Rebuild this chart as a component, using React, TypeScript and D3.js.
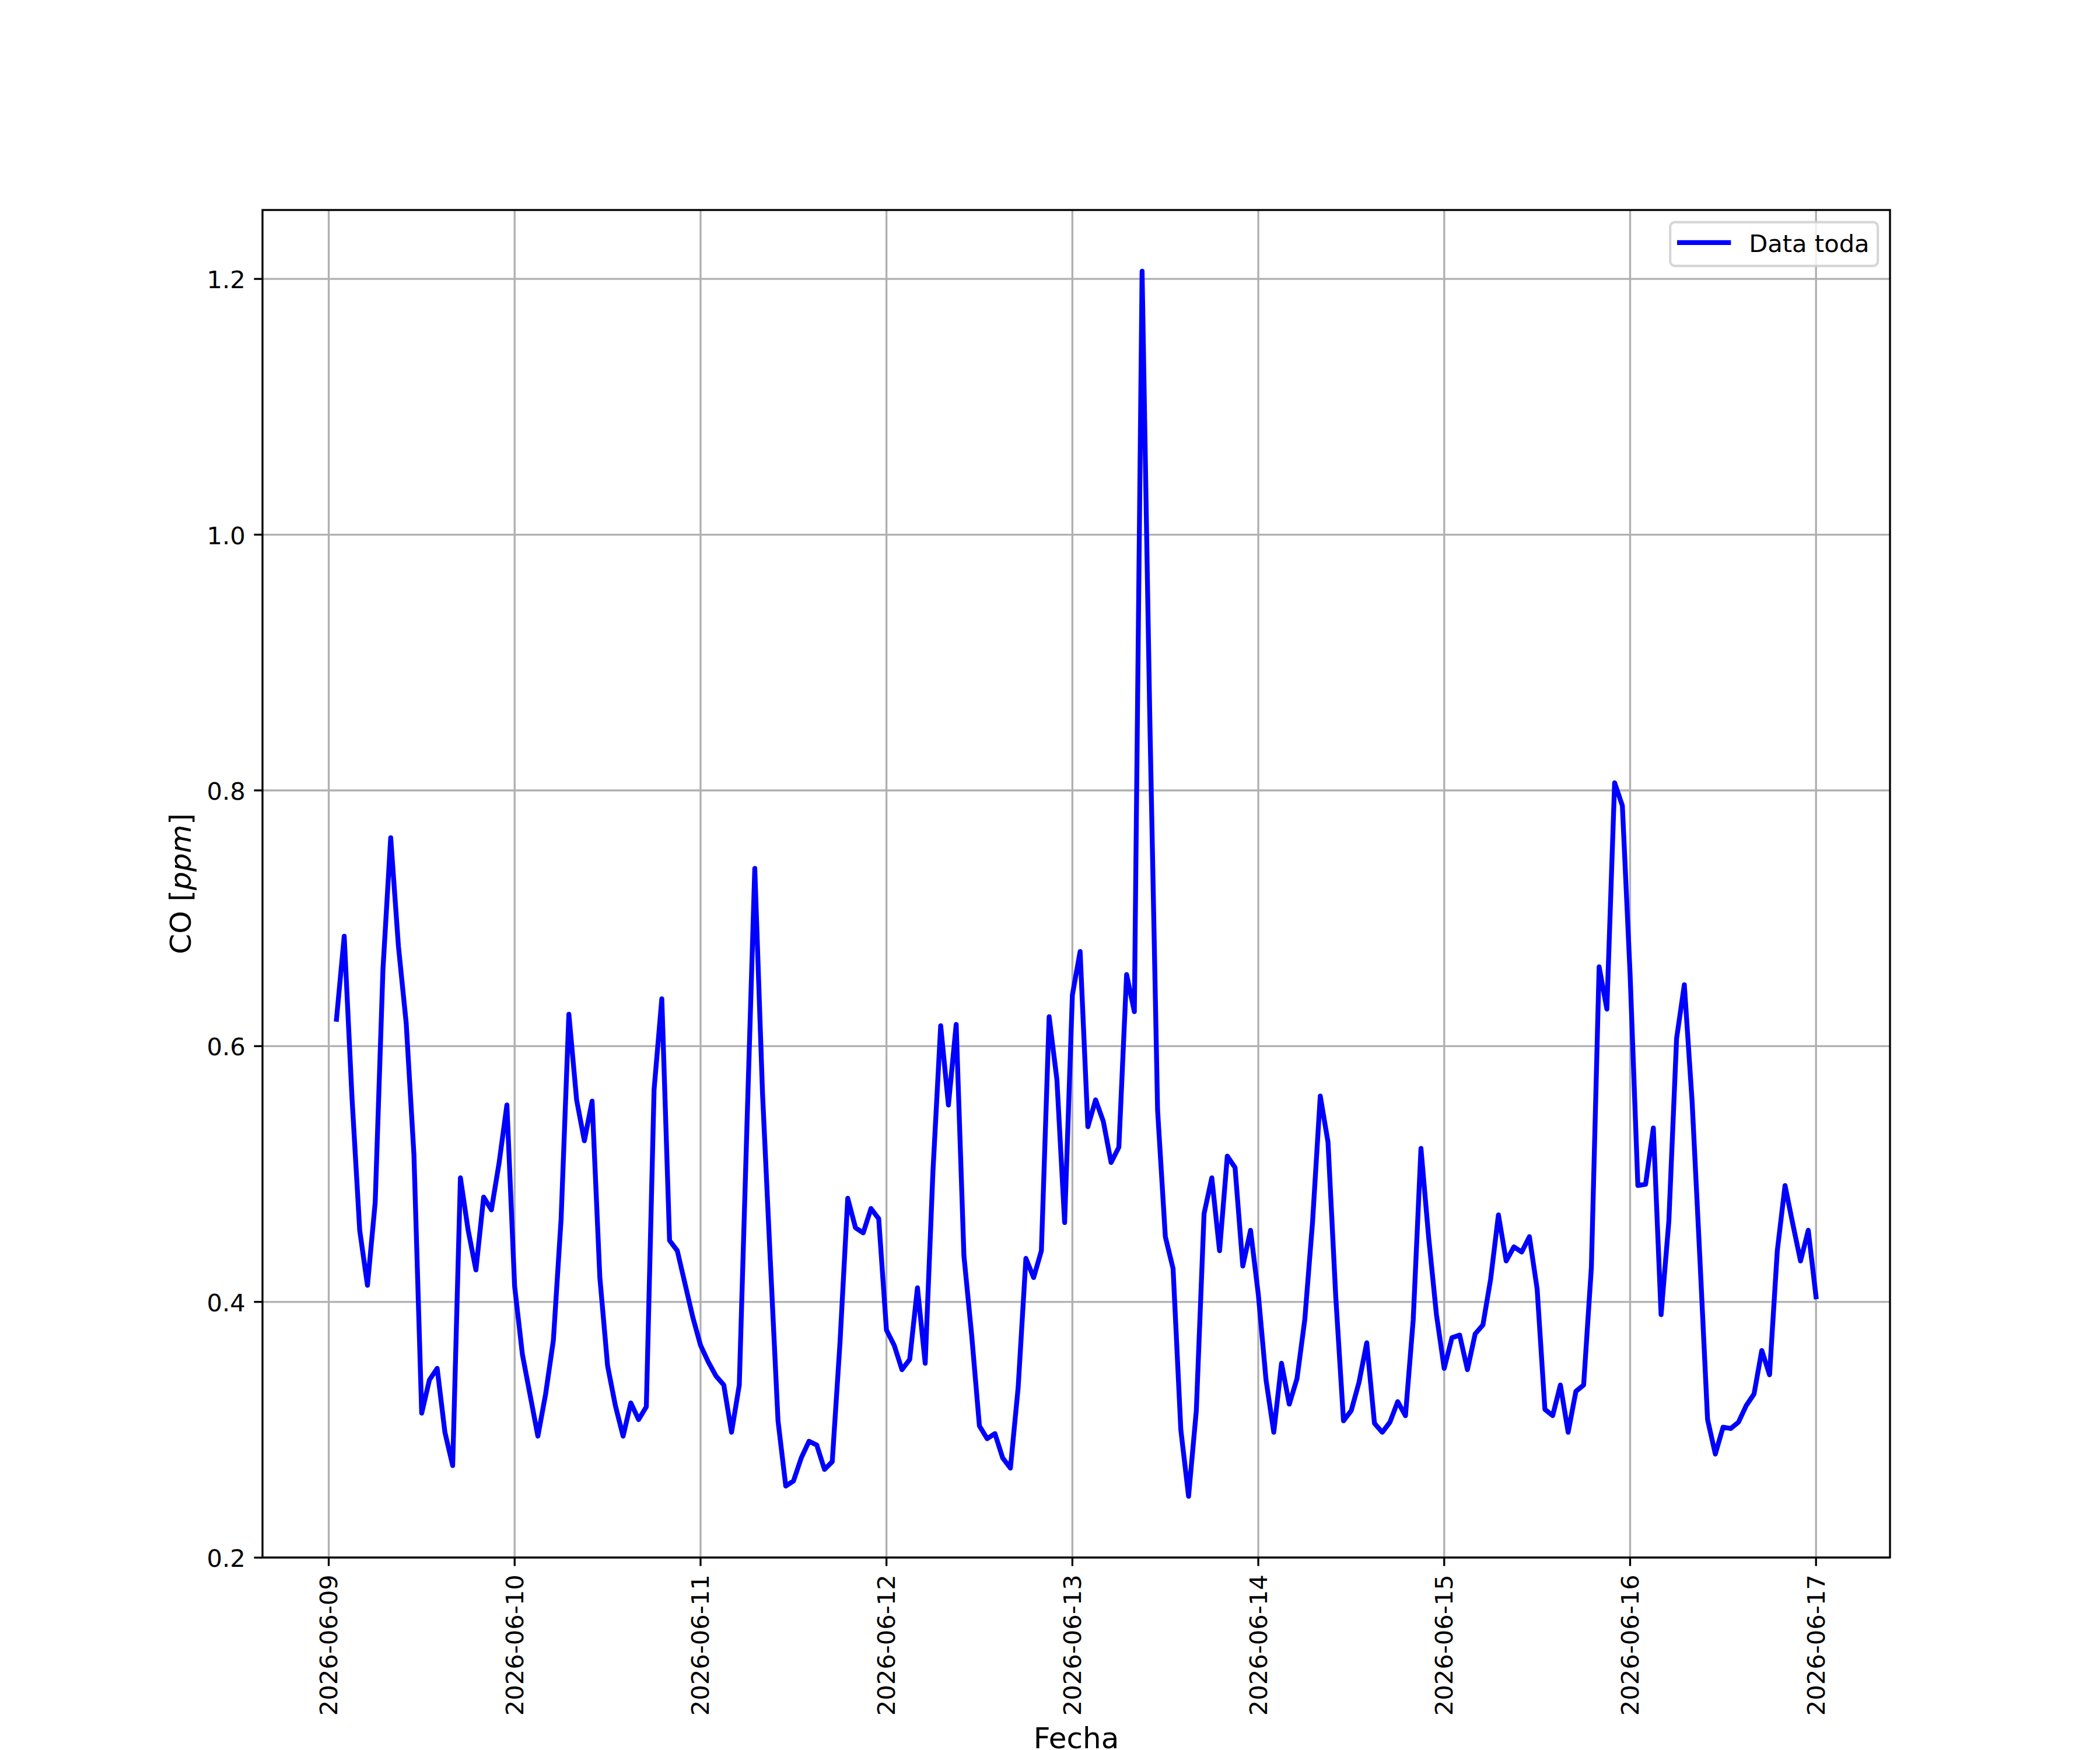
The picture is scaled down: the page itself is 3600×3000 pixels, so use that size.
import React from 'react';
import * as d3 from 'd3';

// hourly CO readings, first one 2026-06-09 01:00
const co0609 = [0.621, 0.686, 0.560, 0.456, 0.413, 0.478, 0.660, 0.763, 0.678, 0.618, 0.515, 0.313,
  0.339, 0.348, 0.298, 0.272, 0.497, 0.456, 0.425, 0.482, 0.472, 0.509, 0.554];
const co0610 = [0.412, 0.359, 0.327, 0.295, 0.328, 0.370, 0.465, 0.625, 0.558, 0.526, 0.557, 0.419,
  0.350, 0.319, 0.295, 0.321, 0.308, 0.318, 0.566, 0.637, 0.448, 0.440, 0.414, 0.388];
const co0611 = [0.366, 0.353, 0.342, 0.335, 0.298, 0.335, 0.540, 0.739, 0.563, 0.433, 0.307, 0.256,
  0.260, 0.278, 0.291, 0.288, 0.269, 0.275, 0.368, 0.481, 0.458, 0.454, 0.473, 0.465];
const co0612 = [0.378, 0.366, 0.347, 0.355, 0.411, 0.352, 0.502, 0.616, 0.554, 0.617, 0.436, 0.374,
  0.303, 0.293, 0.297, 0.278, 0.270, 0.333, 0.434, 0.419, 0.440, 0.623, 0.574, 0.462];
const co0613 = [0.640, 0.674, 0.537, 0.558, 0.541, 0.509, 0.521, 0.656, 0.627, 1.206, 0.855, 0.550,
  0.451, 0.426, 0.300, 0.248, 0.315, 0.469, 0.497, 0.440, 0.514, 0.505, 0.428, 0.456];
const co0614 = [0.406, 0.339, 0.298, 0.352, 0.320, 0.340, 0.386, 0.462, 0.561, 0.525, 0.404, 0.307,
  0.315, 0.337, 0.368, 0.305, 0.298, 0.306, 0.322, 0.311, 0.386, 0.520, 0.450, 0.390];
const co0615 = [0.348, 0.372, 0.374, 0.347, 0.375, 0.382, 0.418, 0.468, 0.432, 0.443, 0.439, 0.451,
  0.410, 0.316, 0.311, 0.335, 0.298, 0.330, 0.335, 0.427, 0.662, 0.629, 0.806, 0.788];
const co0616 = [0.656, 0.491, 0.492, 0.536, 0.390, 0.463, 0.606, 0.648, 0.557, 0.435, 0.308, 0.281,
  0.302, 0.301, 0.306, 0.319, 0.328, 0.362, 0.343, 0.440, 0.491, 0.461, 0.432, 0.456];
const co0617 = [0.404];

const yTicks = [0.2, 0.4, 0.6, 0.8, 1.0, 1.2];
const seriesLabel = 'Data toda';

const W = 3600;
const H = 3000;
const margin = { left: 450, right: 360, top: 360, bottom: 330 };
const FONT = 'DejaVu Sans';
const PT = 300 / 72;
const FS = 10 * PT; // tick / legend text
const LFS = 12 * PT; // axis labels

type Point = { date: Date; value: number };

const values = [...co0609, ...co0610, ...co0611, ...co0612, ...co0613, ...co0614, ...co0615, ...co0616, ...co0617];
const start = Date.UTC(2026, 5, 9, 1);
const data: Point[] = values.map((v, i) => ({ date: new Date(start + i * 3600e3), value: v }));

// matplotlib style 5% padding
function padded(ext: [number, number]): [number, number] {
  const p = (ext[1] - ext[0]) * 0.05;
  return [ext[0] - p, ext[1] + p];
}

export default function App() {
  const x0 = margin.left;
  const x1 = W - margin.right;
  const y0 = H - margin.bottom;
  const y1 = margin.top;

  const tExt = d3.extent(data, d => +d.date) as [number, number];
  const [ta, tb] = padded(tExt);
  const x = d3.scaleUtc().domain([new Date(ta), new Date(tb)]).range([x0, x1]);

  const vExt = d3.extent(data, d => d.value) as [number, number];
  const y = d3.scaleLinear().domain(padded(vExt)).range([y0, y1]);

  const xTicks = x.ticks(d3.utcDay.every(1)!);
  const fmt = d3.utcFormat('%Y-%m-%d');

  const line = d3.line<Point>().x(d => x(d.date)).y(d => y(d.value));

  const tickLen = 3.5 * PT;
  const tickW = 0.8 * PT;
  const gridColor = '#b0b0b0';
  const lw = 2 * PT;

  // legend box, upper right
  const legW = 356;
  const legH = 75;
  const legL = x1 - 0.5 * FS - legW;
  const legT = y1 + 0.5 * FS;

  return (
    <svg width={W} height={H} style={{ position: 'absolute', left: 0, top: 0, background: '#fff' }}
      fontFamily={FONT} fontSize={FS}>
      <rect x={0} y={0} width={W} height={H} fill="#fff" />

      {/* grid */}
      <g stroke={gridColor} strokeWidth={tickW}>
        {xTicks.map(t => (
          <line key={'gx' + +t} x1={x(t)} x2={x(t)} y1={y0} y2={y1} />
        ))}
        {yTicks.map(t => (
          <line key={'gy' + t} x1={x0} x2={x1} y1={y(t)} y2={y(t)} />
        ))}
      </g>

      <path d={line(data) ?? ''} fill="none" stroke="#0000ff" strokeWidth={lw}
        strokeLinejoin="round" strokeLinecap="square" />

      {/* spines */}
      <rect x={x0} y={y1} width={x1 - x0} height={y0 - y1} fill="none" stroke="#000" strokeWidth={tickW} />

      {/* x axis */}
      <g>
        {xTicks.map(t => (
          <g key={'tx' + +t}>
            <line x1={x(t)} x2={x(t)} y1={y0} y2={y0 + tickLen} stroke="#000" strokeWidth={tickW} />
            <text transform={`translate(${x(t)},${y0 + tickLen + 3.5 * PT}) rotate(-90)`}
              textAnchor="end" dy={14.5}>{fmt(t)}</text>
          </g>
        ))}
      </g>

      {/* y axis */}
      <g>
        {yTicks.map(t => (
          <g key={'ty' + t}>
            <line x1={x0 - tickLen} x2={x0} y1={y(t)} y2={y(t)} stroke="#000" strokeWidth={tickW} />
            <text x={x0 - tickLen - 3.5 * PT} y={y(t)} dy={16} textAnchor="end">{t.toFixed(1)}</text>
          </g>
        ))}
      </g>

      <text x={(x0 + x1) / 2} y={2997} textAnchor="middle" fontSize={LFS}>Fecha</text>
      <text transform={`translate(327,${(y0 + y1) / 2}) rotate(-90)`} textAnchor="middle" fontSize={LFS}>
        CO [<tspan fontStyle="italic">ppm</tspan>]
      </text>

      {/* legend */}
      <g>
        <rect x={legL} y={legT} width={legW} height={legH} rx={8} ry={8}
          fill="#fff" fillOpacity={0.8} stroke="#cccccc" strokeOpacity={0.8} strokeWidth={1 * PT} />
        <line x1={legL + 16} x2={legL + 100} y1={legT + 35} y2={legT + 35}
          stroke="#0000ff" strokeWidth={lw} strokeLinecap="square" />
        <text x={legL + 135} y={legT + 51}>{seriesLabel}</text>
      </g>
    </svg>
  );
}
